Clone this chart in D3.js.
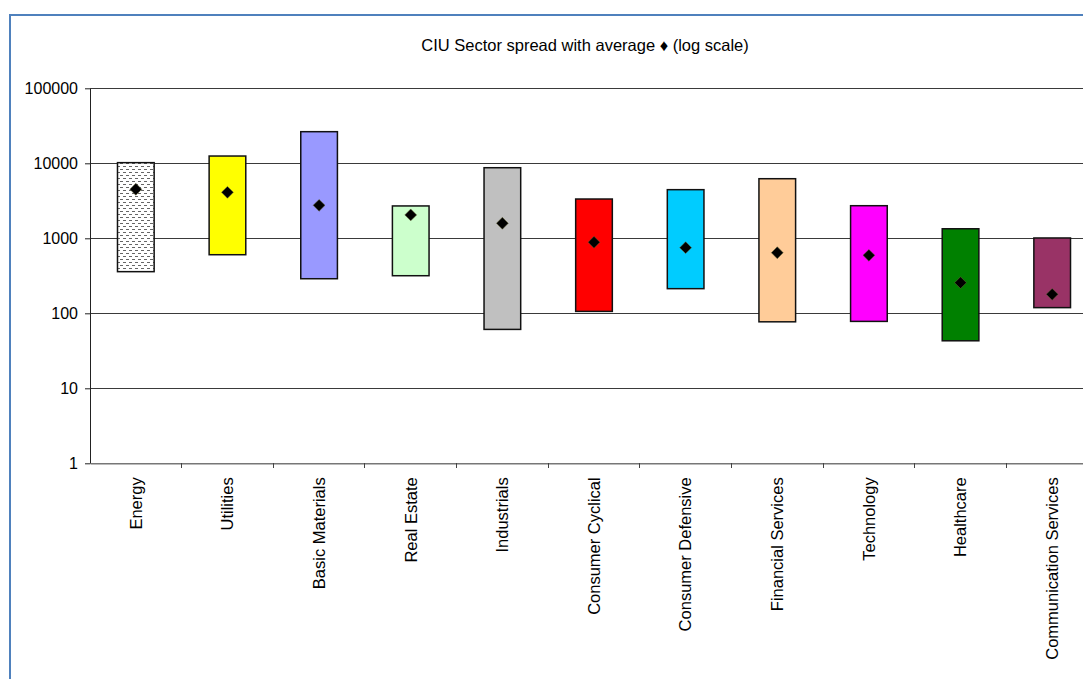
<!DOCTYPE html>
<html><head><meta charset="utf-8">
<script src="https://cdn.jsdelivr.net/npm/d3@7"></script>
<style>body{margin:0;background:#fff;overflow:hidden}svg{display:block}</style>
</head><body>
<script>
const categories = ["Energy","Utilities","Basic Materials","Real Estate","Industrials","Consumer Cyclical","Consumer Defensive","Financial Services","Technology","Healthcare","Communication Services"];
const highValues = [10200,12500,26400,2700,8730,3340,4450,6230,2720,1340,1010];
const lowValues = [359,604,289,317,61,106,213,77,78,43,119];
const avgValues = [4500,4100,2750,2050,1585,885,750,643,593,256,179];
const barColors = ["url(#dots)","#FFFF00","#9999FF","#CCFFCC","#C0C0C0","#FF0000","#00CCFF","#FFCC99","#FF00FF","#008000","#993366"];
const yTicks = [1,10,100,1000,10000,100000];

(function(){
const W = 1083, H = 679;
const FONT = "Liberation Sans, Arial, sans-serif";
const svg = d3.select("body").append("svg").attr("width",W).attr("height",H);
const defs = svg.append("defs");
const pat = defs.append("pattern").attr("id","dots").attr("patternUnits","userSpaceOnUse").attr("width",6).attr("height",6);
pat.append("rect").attr("width",6).attr("height",6).attr("fill","#fff");
pat.append("line").attr("x1",0).attr("x2",3).attr("y1",1.5).attr("y2",1.5).attr("stroke","#666").attr("stroke-width",1);
pat.append("line").attr("x1",3).attr("x2",6).attr("y1",4.5).attr("y2",4.5).attr("stroke","#666").attr("stroke-width",1);

// chart frame
svg.append("rect").attr("x",10).attr("y",15).attr("width",1200).attr("height",800)
  .attr("fill","none").attr("stroke","#4F81BD").attr("stroke-width",2);

const pL = 90, pR = 1098, pT = 88.3, pB = 463.3;
const x = d3.scaleBand().domain(categories).range([pL,pR]).paddingInner(0.6).paddingOuter(0.3);
const y = d3.scaleLog().domain([1,100000]).range([pB,pT]);

// gridlines
svg.append("g").selectAll("line").data(yTicks.slice(1)).join("line")
  .attr("x1",pL).attr("x2",pR).attr("y1",d=>y(d)).attr("y2",d=>y(d))
  .attr("stroke","#3a3a3a").attr("stroke-width",1).attr("shape-rendering","crispEdges");

// y axis
const yAxis = svg.append("g").attr("transform",`translate(${pL},0)`)
  .call(d3.axisLeft(y).tickValues(yTicks).tickFormat(d3.format("d")).tickSize(5).tickSizeOuter(0));
yAxis.select(".domain").attr("stroke","#222");
yAxis.selectAll(".tick line").attr("stroke","#222");
yAxis.selectAll("text").attr("font-family",FONT).attr("font-size",16).attr("fill","#000").attr("dx",-4);

// x axis
const xOuter = d3.scaleBand().domain(categories).range([pL,pR]);
const xAxis = svg.append("g").attr("transform",`translate(0,${pB})`)
  .call(d3.axisBottom(xOuter).tickSize(0).tickSizeOuter(0));
xAxis.select(".domain").attr("stroke","#777").attr("stroke-width",1.5);
xAxis.selectAll("text").attr("font-family",FONT).attr("font-size",16.5).attr("fill","#000")
  .attr("transform","rotate(-90)").attr("text-anchor","end").attr("x",-14).attr("y",0).attr("dy","0.35em");
svg.append("g").selectAll("line").data(categories.slice(1)).join("line")
  .attr("x1",d=>xOuter(d)).attr("x2",d=>xOuter(d)).attr("y1",pB).attr("y2",pB+5)
  .attr("stroke","#444").attr("shape-rendering","crispEdges");

// bars
svg.append("g").selectAll("rect").data(categories).join("rect")
  .attr("x",d=>x(d)).attr("width",x.bandwidth())
  .attr("y",(d,i)=>y(highValues[i])).attr("height",(d,i)=>y(lowValues[i])-y(highValues[i]))
  .attr("fill",(d,i)=>barColors[i]).attr("stroke","#111").attr("stroke-width",1.5);

// averages
svg.append("g").selectAll("path").data(categories).join("path")
  .attr("d",d3.symbol().type(d3.symbolDiamond2).size(90))
  .attr("transform",(d,i)=>`translate(${x(d)+x.bandwidth()/2},${y(avgValues[i])})`)
  .attr("fill","#000").attr("stroke","#6b6b3a").attr("stroke-width",0.5);

// title
svg.append("text").attr("x",585).attr("y",51).attr("text-anchor","middle")
  .attr("font-family",FONT).attr("font-size",16.5).attr("fill","#000")
  .text("CIU Sector spread with average \u2666 (log scale)");
})();
</script>
</body></html>
